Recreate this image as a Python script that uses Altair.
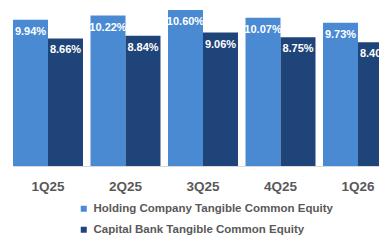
import altair as alt
import pandas as pd

quarters = ["1Q25", "2Q25", "3Q25", "4Q25", "1Q26"]
holding = [9.94, 10.22, 10.60, 10.07, 9.73]
bank = [8.66, 8.84, 9.06, 8.75, 8.40]
series = ["Holding Company Tangible Common Equity", "Capital Bank Tangible Common Equity"]
colors = ["#4A8AD3", "#1F4479"]

rows = []
for q, h, b in zip(quarters, holding, bank):
    rows.append({"q": q, "s": series[0], "v": h, "lab": f"{h:.2f}%"})
    rows.append({"q": q, "s": series[1], "v": b, "lab": f"{b:.2f}%"})
df = pd.DataFrame(rows)

x = alt.X("q:N", sort=quarters, title=None,
          scale=alt.Scale(paddingInner=0.097, paddingOuter=0, range=[0, 380]),
          axis=alt.Axis(labelAngle=0, labelFont="Liberation Sans", labelFontSize=13.5,
                        labelFontWeight="bold", labelColor="#595959", ticks=False,
                        domainColor="#D9D9D9", domainWidth=1, labelPadding=13,
                        labelBaseline="top"))
y = alt.Y("v:Q", scale=alt.Scale(domain=[0, 10.73], nice=False), axis=None)
xo = alt.XOffset("s:N", sort=series)

base = alt.Chart(df).encode(x=x, xOffset=xo, y=y)

bars = base.mark_bar(clip=False).encode(
    color=alt.Color("s:N", sort=series, scale=alt.Scale(domain=series, range=colors),
                    legend=alt.Legend(title=None, orient="none", legendX=65, legendY=195,
                                      direction="vertical", symbolType="square",
                                      symbolSize=36, symbolStrokeWidth=0,
                                      labelFont="Liberation Sans", labelFontSize=11.5,
                                      labelFontWeight="bold", labelColor="#595959",
                                      labelOffset=4, rowPadding=8, padding=0,
                                      labelLimit=400))
)

text = base.mark_text(font="Liberation Sans", fontSize=11, fontWeight="bold",
                      color="white", baseline="middle", dy=12).encode(text="lab:N")

chart = (bars + text).properties(
    width=366, height=158,
    autosize=alt.AutoSizeParams(type="none"),
    padding={"left": 5, "top": 0, "right": 0, "bottom": 70},
    background="white",
).configure_view(stroke=None)

chart.save("out.html", embed_options={"renderer": "svg", "actions": False})
